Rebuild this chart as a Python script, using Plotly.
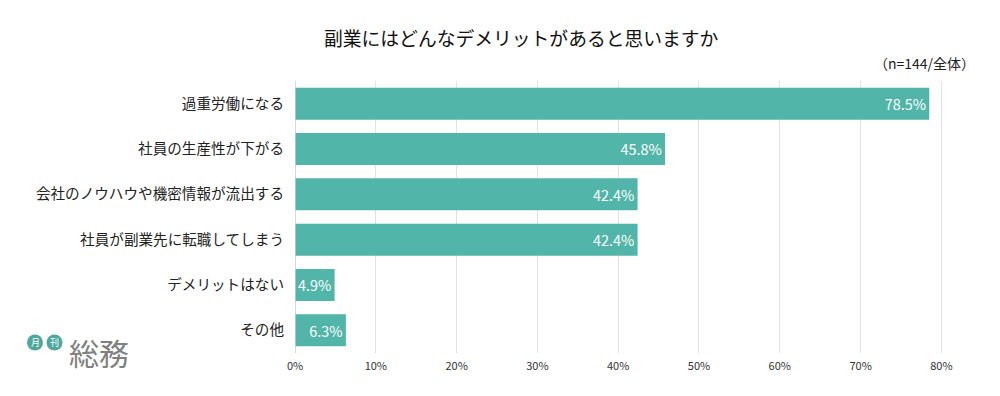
import plotly.graph_objects as go

categories = ["過重労働になる", "社員の生産性が下がる", "会社のノウハウや機密情報が流出する",
              "社員が副業先に転職してしまう", "デメリットはない", "その他"]
values = [78.5, 45.8, 42.4, 42.4, 4.9, 6.3]
tick_vals = [0, 10, 20, 30, 40, 50, 60, 70, 80]
tick_text = [f"{v}%" for v in tick_vals]

FONT = "Noto Sans CJK JP"
BAR = "#52B5AA"

L, R, T, B = 295, 57, 81, 43
PW, PH = 1000 - L - R, 396 - T - B

def px(x):
    return (x - L) / PW

def py(y):
    return (396 - B - y) / PH

fig = go.Figure(go.Bar(
    x=values, y=categories, orientation="h",
    marker=dict(color=BAR, line=dict(width=0)),
    width=0.707,
    text=[f"{v}%" for v in values], textposition="inside", insidetextanchor="end",
    textfont=dict(color="white", size=16, family=FONT),
    cliponaxis=False, hoverinfo="skip",
))

fig.update_layout(
    width=1000, height=396,
    margin=dict(l=L, r=R, t=T, b=B, autoexpand=False),
    paper_bgcolor="white", plot_bgcolor="white",
    font=dict(family=FONT, color="#222222", size=13),
    showlegend=False,
    uniformtext=dict(minsize=8, mode="show"),
    xaxis=dict(range=[0, 80.2], tickvals=tick_vals, ticktext=tick_text, automargin=False,
               showgrid=True, gridcolor="#e3e3e3", gridwidth=1, zeroline=False,
               showline=False, ticks="", ticklabelstandoff=5,
               tickfont=dict(size=11, color="#333")),
    yaxis=dict(categoryorder="array", categoryarray=categories[::-1], automargin=False,
               autorange=False, range=[-0.5, 5.5],
               showgrid=False, zeroline=False, ticks="", ticklabelstandoff=10,
               tickfont=dict(size=14.6, color="#222")),
    bargap=0.3,
)

fig.add_shape(type="line", xref="x", yref="paper", x0=0, x1=0, y0=0, y1=1,
              line=dict(color="#cccccc", width=1.5), layer="above")

fig.add_annotation(text="副業にはどんなデメリットがあると思いますか", xref="paper", yref="paper",
                   x=px(521), y=py(38), showarrow=False,
                   font=dict(size=18.8, color="#111", family=FONT), xanchor="center", yanchor="middle")
fig.add_annotation(text="（n=144/全体）", xref="paper", yref="paper",
                   x=px(977), y=py(63), showarrow=False,
                   font=dict(size=14, color="#222", family=FONT), xanchor="right", yanchor="middle")

# logo
for cx, ch in [(35, "月"), (54.5, "刊")]:
    fig.add_shape(type="circle", xref="paper", yref="paper",
                  xsizemode="pixel", ysizemode="pixel",
                  xanchor=px(cx), yanchor=py(342.5),
                  x0=-8, x1=8, y0=-8, y1=8,
                  fillcolor="#4fa89d", line=dict(width=0), layer="below")
    fig.add_annotation(text=ch, xref="paper", yref="paper", x=px(cx), y=py(342.5),
                       showarrow=False, xanchor="center", yanchor="middle",
                       font=dict(size=9, color="white", family=FONT))
fig.add_annotation(text="総務", xref="paper", yref="paper", x=px(99), y=py(352),
                   showarrow=False, xanchor="center", yanchor="middle",
                   font=dict(size=30, color="#808080", family=FONT))

fig.write_html("out.html", config={"displayModeBar": False},
               post_script="document.body.style.margin='0';")
